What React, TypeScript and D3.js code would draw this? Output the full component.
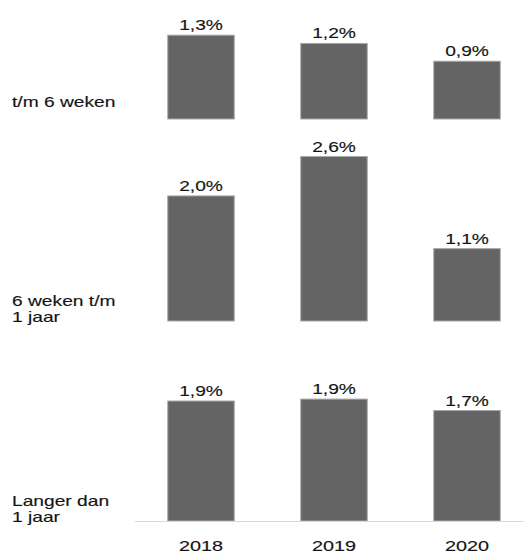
import React from "react";
import * as d3 from "d3";

const years = ["2018", "2019", "2020"];
const rowLabels = [["t/m 6 weken"], ["6 weken t/m", "1 jaar"], ["Langer dan", "1 jaar"]];
const valuesShort = [1.32, 1.19, 0.91];
const valuesMid = [1.97, 2.59, 1.14];
const valuesLong = [1.89, 1.92, 1.74];
const series = [valuesShort, valuesMid, valuesLong];

const W = 524;
const H = 553;
const panelBaselines = [119, 321, 521];
const panelHeight = 200;
const SX = 1.28;
const FONT = "'Liberation Sans', Arial, sans-serif";

function T({ x, y, anchor = "start", size = 15, children }: any) {
  return (
    <text
      transform={`translate(${x},${y}) scale(${SX},1)`}
      textAnchor={anchor}
      fontFamily={FONT}
      fontSize={size}
      fill="#141414"
      stroke="#141414"
      strokeWidth={0.15}
    >
      {children}
    </text>
  );
}

export default function App() {
  const x = d3
    .scaleBand<string>()
    .domain(years)
    .range([134.5, 533.5])
    .paddingInner(0.5)
    .paddingOuter(0.25);
  const y = d3.scaleLinear().domain([0, 3.15]).range([panelHeight, 0]);
  const fmt = (v: number) => d3.format(".1f")(v).replace(".", ",") + "%";

  return (
    <svg
      width={W}
      height={H}
      style={{ position: "absolute", left: 0, top: 0, background: "#fff" }}
    >
      <rect width={W} height={H} fill="#fff" />
      {series.map((vals, i) => {
        const base = panelBaselines[i];
        const top = base - panelHeight;
        const lines = rowLabels[i];
        const lastLineY = lines.length === 1 ? base - 12 : base + 1;
        return (
          <g key={i}>
            {lines.map((l, j) => (
              <T key={j} x={12} y={lastLineY - (lines.length - 1 - j) * 16.5}>
                {l}
              </T>
            ))}
            {vals.map((v, k) => {
              const bx = x(years[k])!;
              const by = top + y(v);
              return (
                <g key={k}>
                  <rect
                    x={bx}
                    y={by}
                    width={x.bandwidth()}
                    height={base - by}
                    fill="#646464"
                    stroke="#a8a8a8"
                    strokeWidth={1}
                  />
                  <T x={bx + x.bandwidth() / 2} y={by - 5} anchor="middle">
                    {fmt(v)}
                  </T>
                </g>
              );
            })}
          </g>
        );
      })}
      <line
        x1={134.5}
        x2={W}
        y1={panelBaselines[2] + 0.5}
        y2={panelBaselines[2] + 0.5}
        stroke="#d9d9d9"
        strokeWidth={1}
      />
      {years.map((yr) => (
        <T key={yr} x={x(yr)! + x.bandwidth() / 2} y={551} anchor="middle" size={15.5}>
          {yr}
        </T>
      ))}
    </svg>
  );
}
